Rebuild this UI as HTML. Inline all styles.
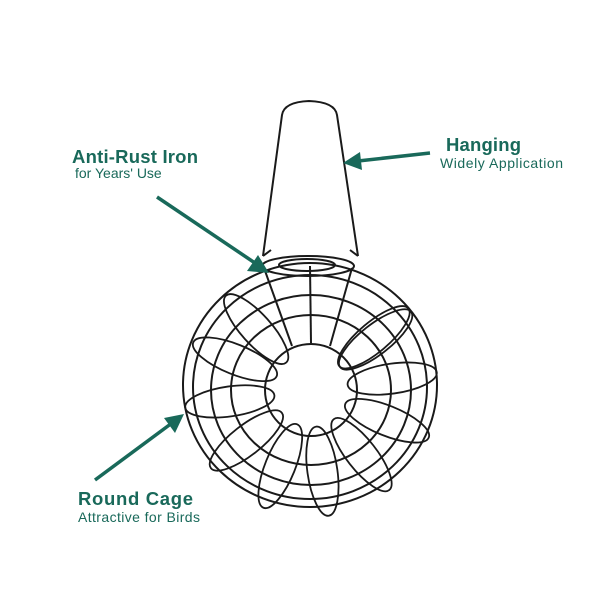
<!DOCTYPE html>
<html><head><meta charset="utf-8"><style>
html,body{margin:0;padding:0;background:#fff;}
svg{display:block}
text{font-family:"Liberation Sans",Arial,sans-serif;fill:#19695a;}
.b{font-weight:bold;font-size:18.5px}
.s{font-size:14px}
</style></head><body>
<svg width="600" height="600" viewBox="0 0 600 600">
<rect width="600" height="600" fill="#fff"/>
<g fill="none" stroke="#1a1a1a" stroke-width="2">
<path d="M263 256 L282 115 Q284 102 309 101 Q335 102 337 115 L358 256"/>
<path d="M263 256 l8 -6 M358 256 l-8 -6"/>
<ellipse cx="308" cy="266" rx="46" ry="10"/>
<ellipse cx="307" cy="265" rx="28" ry="6"/>
<line x1="310" y1="266" x2="311" y2="343"/>
<line x1="264" y1="268" x2="292" y2="346"/>
<line x1="352" y1="268" x2="330" y2="346"/>
<ellipse cx="310" cy="385" rx="127" ry="122"/>
<ellipse cx="310" cy="387" rx="117" ry="112"/>
<ellipse cx="311" cy="390" rx="100" ry="95"/>
<ellipse cx="311" cy="390" rx="80" ry="75"/>
<ellipse cx="311" cy="390" rx="46" ry="46"/>
<g stroke-width="1.8">
<ellipse cx="393" cy="390" rx="45" ry="15" transform="rotate(-8 311 390)"/>
<ellipse cx="393" cy="390" rx="45" ry="15" transform="rotate(22 311 390)"/>
<ellipse cx="393" cy="390" rx="45" ry="15" transform="rotate(52 311 390)"/>
<ellipse cx="393" cy="390" rx="45" ry="15" transform="rotate(82 311 390)"/>
<ellipse cx="393" cy="390" rx="45" ry="15" transform="rotate(112 311 390)"/>
<ellipse cx="393" cy="390" rx="45" ry="15" transform="rotate(142 311 390)"/>
<ellipse cx="393" cy="390" rx="45" ry="15" transform="rotate(172 311 390)"/>
<ellipse cx="393" cy="390" rx="45" ry="15" transform="rotate(202 311 390)"/>
<ellipse cx="393" cy="390" rx="45" ry="15" transform="rotate(320 311 390)"/>
<ellipse cx="393" cy="390" rx="45" ry="15" transform="rotate(-38 311 390)"/>
<ellipse cx="393" cy="390" rx="45" ry="15" transform="rotate(228 311 390)"/>
</g>
</g>
<g stroke="#19695a" stroke-width="3.5" fill="#19695a">
<line x1="157" y1="197" x2="255" y2="263"/>
<polygon points="269,273 247,271 258,255" stroke="none"/>
<line x1="430" y1="153" x2="358" y2="161"/>
<polygon points="343,163 360,152 362,170" stroke="none"/>
<line x1="95" y1="480" x2="172" y2="423"/>
<polygon points="184,414 175,433 164,418" stroke="none"/>
</g>
<text class="b" x="72" y="163" textLength="126">Anti-Rust Iron</text>
<text class="s" x="75" y="178">for Years' Use</text>
<text class="b" x="446" y="151" textLength="75">Hanging</text>
<text class="s" x="440" y="168" textLength="123">Widely Application</text>
<text class="b" x="78" y="505" textLength="115">Round Cage</text>
<text class="s" x="78" y="522" textLength="122">Attractive for Birds</text>
</svg>
</body></html>
